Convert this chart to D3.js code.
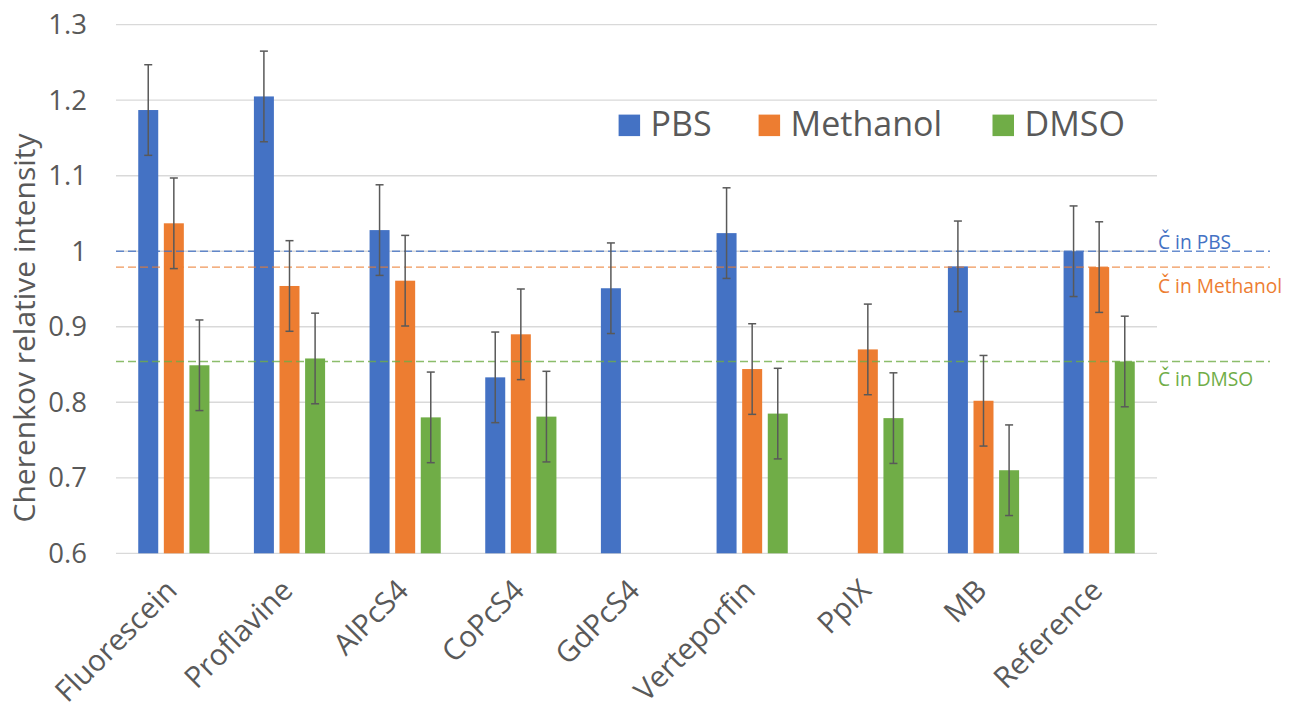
<!DOCTYPE html>
<html>
<head>
<meta charset="utf-8">
<script src="https://cdn.jsdelivr.net/npm/d3@7"></script>
<style>
  body { margin: 0; background: #fff; }
  text { font-family: "Open Sans", sans-serif; }
</style>
</head>
<body>
<div id="chart"></div>
<script>
// data
const categories = ["Fluorescein", "Proflavine", "AlPcS4", "CoPcS4", "GdPcS4", "Verteporfin", "PpIX", "MB", "Reference"];
const seriesNames = ["PBS", "Methanol", "DMSO"];
const pbsValues      = [1.187, 1.205, 1.028, 0.833, 0.951, 1.024, null, 0.980, 1.000];
const methanolValues = [1.037, 0.954, 0.961, 0.890, null, 0.844, 0.870, 0.802, 0.979];
const dmsoValues     = [0.849, 0.858, 0.780, 0.781, null, 0.785, 0.779, 0.710, 0.854];
const errorValue = 0.06;
const refLevels = [1.0, 0.979, 0.854];
const refLabels = ["Č in PBS", "Č in Methanol", "Č in DMSO"];
const yTicks = [0.6, 0.7, 0.8, 0.9, 1.0, 1.1, 1.2, 1.3];
const colors = ["#4472C4", "#ED7D31", "#70AD47"];

const allValues = [pbsValues, methanolValues, dmsoValues];

//positional parameters
let svgWidth = 1291;
let svgHeight = 710;
let plotLeft = 116;
let plotRight = 1157;
let plotTop = 24.7;
let plotBottom = 553.3;

let svg = d3.select("#chart")
  .append("svg")
  .attr("width", svgWidth)
  .attr("height", svgHeight);

//scales
let xScale = d3.scaleBand()
  .domain(categories)
  .range([plotLeft, plotRight])
  .padding(0);

let xInner = d3.scaleBand()
  .domain(seriesNames)
  .range([-38.4, 38.4])
  .paddingInner(0.219)
  .paddingOuter(0.1095);

let yScale = d3.scaleLinear()
  .domain([0.6, 1.3])
  .range([plotBottom, plotTop]);

//gridlines
svg.append("g")
  .selectAll("line")
  .data(yTicks)
  .join("line")
  .attr("x1", plotLeft)
  .attr("x2", plotRight)
  .attr("y1", d => yScale(d))
  .attr("y2", d => yScale(d))
  .attr("stroke", "#d9d9d9")
  .attr("stroke-width", 1.3);

//y axis labels
let yAxis = d3.axisLeft(yScale)
  .tickValues(yTicks)
  .tickFormat(d => d === 1 ? "1" : d3.format(".1f")(d))
  .tickSize(0)
  .tickPadding(29);

let yAxisGroup = svg.append("g")
  .attr("transform", `translate(${plotLeft},0)`)
  .call(yAxis);
yAxisGroup.select(".domain").remove();
yAxisGroup.selectAll("text")
  .attr("font-family", "Open Sans")
  .attr("font-size", 27.5)
  .attr("fill", "#595959");

//y axis title
svg.append("text")
  .attr("transform", "translate(35,328)rotate(-90)")
  .attr("text-anchor", "middle")
  .attr("font-size", 30)
  .attr("fill", "#595959")
  .text("Cherenkov relative intensity");

//x axis labels
let xAxis = d3.axisBottom(xScale).tickSize(0).tickPadding(0);
let xAxisGroup = svg.append("g")
  .attr("transform", `translate(0,${plotBottom})`)
  .call(xAxis);
xAxisGroup.select(".domain").remove();
xAxisGroup.selectAll("text")
  .attr("font-family", "Open Sans")
  .attr("font-size", 29.5)
  .attr("fill", "#595959")
  .attr("text-anchor", "end")
  .attr("dy", 0)
  .attr("transform", "translate(5,39)rotate(-45)");

//bars
seriesNames.forEach((name, s) => {
  let values = allValues[s];
  let rows = categories.map((c, i) => ({ cat: c, v: values[i] })).filter(d => d.v !== null);

  svg.append("g")
    .selectAll("rect")
    .data(rows)
    .join("rect")
    .attr("x", d => xScale(d.cat) + xScale.bandwidth() / 2 + xInner(name))
    .attr("width", xInner.bandwidth())
    .attr("y", d => yScale(d.v))
    .attr("height", d => plotBottom - yScale(d.v))
    .attr("fill", colors[s]);
});

//reference dashed lines
refLevels.forEach((lvl, i) => {
  svg.append("line")
    .attr("x1", plotLeft)
    .attr("x2", 1270)
    .attr("y1", yScale(lvl))
    .attr("y2", yScale(lvl))
    .attr("stroke", colors[i])
    .attr("stroke-width", 1.3)
    .attr("stroke-dasharray", "8,4")
    .attr("opacity", 0.8);
});

//reference labels
let refLabelY = [-2, 25.4, 25];
refLabels.forEach((lab, i) => {
  svg.append("text")
    .attr("x", 1158)
    .attr("y", yScale(refLevels[i]) + refLabelY[i])
    .attr("font-size", 19.2)
    .attr("fill", colors[i])
    .text(lab);
});

//error bars
seriesNames.forEach((name, s) => {
  let values = allValues[s];
  let rows = categories.map((c, i) => ({ cat: c, v: values[i] })).filter(d => d.v !== null);
  let g = svg.append("g").attr("stroke", "#595959").attr("stroke-width", 1.5);
  rows.forEach(d => {
    let cx = xScale(d.cat) + xScale.bandwidth() / 2 + xInner(name) + xInner.bandwidth() / 2;
    let yTop = yScale(d.v + errorValue);
    let yBot = yScale(d.v - errorValue);
    g.append("line").attr("x1", cx).attr("x2", cx).attr("y1", yTop).attr("y2", yBot);
    g.append("line").attr("x1", cx - 4).attr("x2", cx + 4).attr("y1", yTop).attr("y2", yTop);
    g.append("line").attr("x1", cx - 4).attr("x2", cx + 4).attr("y1", yBot).attr("y2", yBot);
  });
});

//legend
let legendX = [618.6, 758.6, 992.5];
let legend = svg.append("g");
seriesNames.forEach((name, s) => {
  legend.append("rect")
    .attr("x", legendX[s])
    .attr("y", 114.6)
    .attr("width", 21.5)
    .attr("height", 21.5)
    .attr("fill", colors[s]);
  legend.append("text")
    .attr("x", legendX[s] + 32)
    .attr("y", 135.5)
    .attr("font-size", 34)
    .attr("fill", "#595959")
    .text(name);
});
</script>
</body>
</html>
